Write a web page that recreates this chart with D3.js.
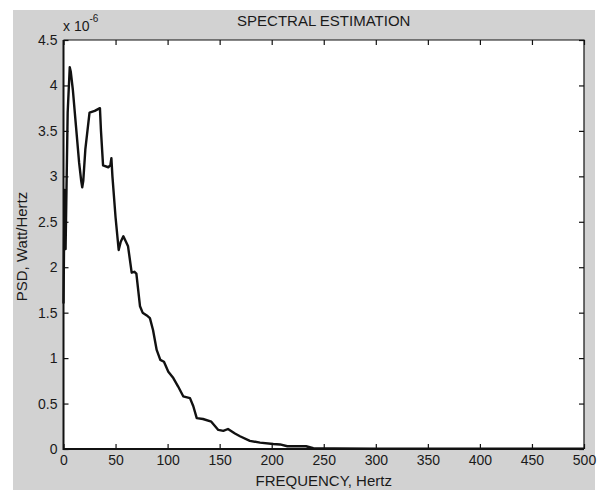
<!DOCTYPE html>
<html>
<head>
<meta charset="utf-8">
<script src="https://cdn.jsdelivr.net/npm/d3@7"></script>
<style>
  body { margin: 0; background: #fff; }
  text { font-family: "Liberation Sans", Arial, sans-serif; fill: #1a1a1a; }
</style>
</head>
<body>
<div id="vis"></div>
<script>
const SVG = d3.select("#vis").append("svg");

// Datos (PSD en unidades de 1e-6 Watt/Hertz)
const FRECUENCIAS = [0, 1, 2, 4, 6, 7, 9, 12, 15, 17, 18, 19, 21, 25, 30, 35, 36, 38, 43, 45,
    46, 47, 50, 53, 55, 57.5, 60, 62, 65.5, 68, 70, 73.5, 76, 80, 83, 86, 89.5, 93, 96.5, 100.7,
    105.5, 110, 115, 121.5, 124.7, 128, 134, 142, 148.7, 153.5, 158, 164.7, 169.5, 179, 188.8,
    201.5, 208, 215, 233, 240, 260, 300, 400, 500];
const PSD = [1.6, 2.85, 2.2, 3.7, 4.2, 4.15, 3.95, 3.55, 3.15, 2.95, 2.88, 2.95, 3.3, 3.7, 3.72, 3.75, 3.5, 3.12, 3.1, 3.12,
    3.2, 3.0, 2.55, 2.19, 2.28, 2.34, 2.28, 2.23, 1.94, 1.95, 1.93, 1.57, 1.5, 1.47, 1.44, 1.31, 1.09, 0.98, 0.96, 0.85,
    0.78, 0.69, 0.58, 0.56, 0.47, 0.34, 0.33, 0.30, 0.21, 0.20, 0.22, 0.17, 0.14, 0.09, 0.07,
    0.055, 0.05, 0.03, 0.03, 0.008, 0.005, 0.004, 0.003, 0.003];

const TICKS_X = [0, 50, 100, 150, 200, 250, 300, 350, 400, 450, 500];
const TICKS_Y = [0, 0.5, 1, 1.5, 2, 2.5, 3, 3.5, 4, 4.5];

const TITULO = "SPECTRAL ESTIMATION";
const ETIQUETA_X = "FREQUENCY, Hertz";
const ETIQUETA_Y = "PSD, Watt/Hertz";

const WIDTH = 603;
const HEIGHT = 490;
SVG.attr("width", WIDTH).attr("height", HEIGHT);

// fondo gris de la figura
SVG.append("rect")
    .attr("x", 13).attr("y", 10)
    .attr("width", 582).attr("height", 480)
    .attr("fill", "#d2d2d2");

const X0 = 63.5, X1 = 584, Y0 = 40, Y1 = 449;

const escalaX = d3.scaleLinear().domain([0, 500]).range([X0, X1]);
const escalaY = d3.scaleLinear().domain([0, 4.5]).range([Y1, Y0]);

// area del grafico
SVG.append("rect")
    .attr("x", X0).attr("y", Y0)
    .attr("width", X1 - X0).attr("height", Y1 - Y0)
    .attr("fill", "white");

// curva
const linea = d3.line()
    .x((d, i) => escalaX(FRECUENCIAS[i]))
    .y(d => escalaY(d));

SVG.append("path")
    .datum(PSD)
    .attr("d", linea)
    .attr("fill", "none")
    .attr("stroke", "#111")
    .attr("stroke-width", 2.4)
    .attr("stroke-linejoin", "round");

// ejes con ticks hacia adentro
const ejeAbajo = d3.axisBottom(escalaX).tickValues(TICKS_X).tickSize(-5).tickPadding(6).tickFormat(d3.format("d"));
const ejeArriba = d3.axisTop(escalaX).tickValues(TICKS_X).tickSize(-5).tickFormat("");
const ejeIzq = d3.axisLeft(escalaY).tickValues(TICKS_Y).tickSize(-5).tickPadding(6).tickFormat(d => d);
const ejeDer = d3.axisRight(escalaY).tickValues(TICKS_Y).tickSize(-5).tickFormat("");

function estilo(g) {
    g.select(".domain").remove();
    g.selectAll(".tick line").attr("stroke", "#111").attr("stroke-width", 1.2);
    g.selectAll(".tick text").attr("font-size", "14px").attr("fill", "#222")
        .attr("font-family", "Liberation Sans, Arial, sans-serif");
}

SVG.append("g").attr("transform", `translate(0,${Y1})`).call(ejeAbajo).call(estilo);
SVG.append("g").attr("transform", `translate(0,${Y0})`).call(ejeArriba).call(estilo);
SVG.append("g").attr("transform", `translate(${X0},0)`).call(ejeIzq).call(estilo);
SVG.append("g").attr("transform", `translate(${X1},0)`).call(ejeDer).call(estilo);

// marco
SVG.append("path")
    .attr("d", `M${X0},${Y0}V${Y1}H${X1}`)
    .attr("fill", "none").attr("stroke", "#111").attr("stroke-width", 2);
SVG.append("path")
    .attr("d", `M${X0},${Y0}H${X1}V${Y1}`)
    .attr("fill", "none").attr("stroke", "#111").attr("stroke-width", 1.2);

// titulo y etiquetas
SVG.append("text")
    .attr("x", (X0 + X1) / 2).attr("y", 26)
    .attr("text-anchor", "middle")
    .attr("font-size", "15px")
    .text(TITULO);

SVG.append("text")
    .attr("x", (X0 + X1) / 2).attr("y", 486)
    .attr("text-anchor", "middle")
    .attr("font-size", "15px")
    .text(ETIQUETA_X);

SVG.append("text")
    .attr("transform", `translate(26.5,${(Y0 + Y1) / 2 + 2}) rotate(-90)`)
    .attr("text-anchor", "middle")
    .attr("font-size", "15px")
    .text(ETIQUETA_Y);

// factor de escala
const factor = SVG.append("text")
    .attr("x", 63).attr("y", 31)
    .attr("font-size", "14px");
factor.append("tspan").text("x 10");
factor.append("tspan").attr("dy", -9).attr("font-size", "10px").text("-6");
</script>
</body>
</html>
